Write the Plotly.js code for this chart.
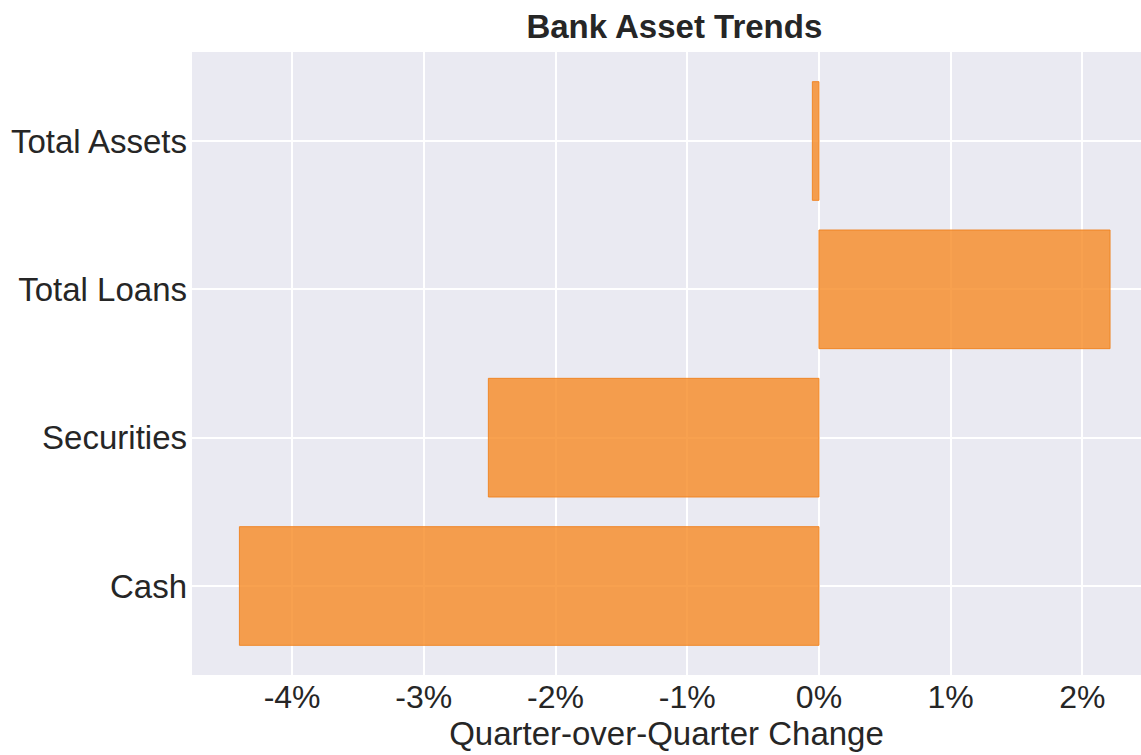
<!DOCTYPE html>
<html><head><meta charset="utf-8">
<script src="https://cdn.plot.ly/plotly-3.0.1.min.js"></script>
<style>html,body{margin:0;padding:0;background:#fff;}</style>
</head><body>
<div id="chart" style="width:1141px;height:755px;"></div>
<script>
const categories = ["Cash", "Securities", "Total Loans", "Total Assets"];
const changes = [-4.40, -2.51, 2.21, -0.05];
const tickVals = [-4, -3, -2, -1, 0, 1, 2];
const tickLabels = ["-4%", "-3%", "-2%", "-1%", "0%", "1%", "2%"];

const trace = {
  type: "bar",
  orientation: "h",
  y: categories,
  x: changes,
  width: 0.8,
  marker: {color: "rgba(247,140,40,0.82)", line: {color: "rgba(240,130,30,0.9)", width: 1}},
  hoverinfo: "x+y"
};

const layout = {
  width: 1141, height: 755,
  margin: {l: 192, r: 0, t: 52, b: 80},
  paper_bgcolor: "#ffffff",
  plot_bgcolor: "#eaeaf2",
  font: {family: "Liberation Sans, Arial, sans-serif", color: "#262626"},
  title: {text: "<b>Bank Asset Trends</b>", font: {size: 33, color: "#262626"}, x: 0.591, xanchor: "center", y: 0.965, yanchor: "middle"},
  xaxis: {
    range: [-4.76, 2.445],
    tickvals: tickVals, ticktext: tickLabels,
    tickfont: {size: 32, color: "#262626"},
    showgrid: true, gridcolor: "#ffffff", gridwidth: 1.5,
    zeroline: false, showline: false, ticks: "",
    title: {text: "Quarter-over-Quarter Change", font: {size: 33, color: "#262626"}, standoff: 5}
  },
  yaxis: {
    range: [-0.6, 3.6],
    tickfont: {size: 33, color: "#262626"},
    showgrid: true, gridcolor: "#ffffff", gridwidth: 1.5,
    zeroline: false, showline: false, ticks: "", ticklabelstandoff: 4
  },
  showlegend: false
};
Plotly.newPlot("chart", [trace], layout, {displayModeBar: false});
</script>
</body></html>
